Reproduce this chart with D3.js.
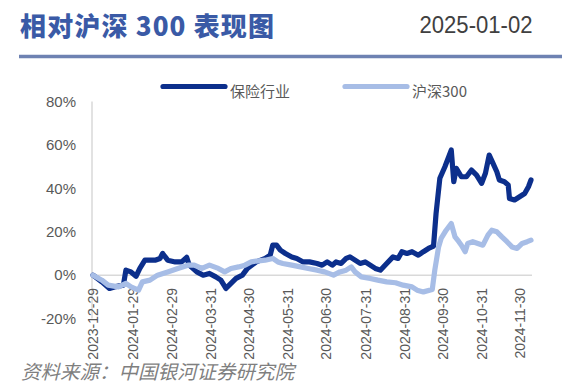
<!DOCTYPE html>
<html><head><meta charset="utf-8">
<script src="https://cdn.jsdelivr.net/npm/d3@7/dist/d3.min.js"></script>
<style>
html,body{margin:0;padding:0;background:#fff;}
svg{display:block;}
</style></head>
<body>
<svg id="chart" width="571" height="392"></svg>
<script>
const titleText = "相对沪深 300 表现图";
const dateText = "2025-01-02";
const sourceText = "资料来源：中国银河证券研究院";
const seriesNames = ["保险行业", "沪深300"];

const xTickLabels = ["2023-12-29","2024-01-29","2024-02-29","2024-03-31","2024-04-30","2024-05-31","2024-06-30","2024-07-31","2024-08-31","2024-09-30","2024-10-31","2024-11-30"];
const yTickValues = [-20, 0, 20, 40, 60, 80];
const xDomain = ["2023-12-29", "2024-12-09"];

const insuranceDates = ["2023-12-29","2024-01-05","2024-01-11","2024-01-15","2024-01-22","2024-01-24","2024-01-28","2024-02-01","2024-02-04","2024-02-08","2024-02-16","2024-02-20","2024-02-22","2024-02-26","2024-03-03","2024-03-08","2024-03-12","2024-03-14","2024-03-20","2024-03-25","2024-03-30","2024-04-04","2024-04-08","2024-04-12","2024-04-16","2024-04-20","2024-04-25","2024-04-29","2024-05-06","2024-05-13","2024-05-17","2024-05-19","2024-05-22","2024-05-25","2024-05-29","2024-06-03","2024-06-07","2024-06-12","2024-06-17","2024-06-23","2024-06-27","2024-07-01","2024-07-05","2024-07-08","2024-07-12","2024-07-16","2024-07-19","2024-07-23","2024-07-27","2024-07-31","2024-08-04","2024-08-08","2024-08-12","2024-08-17","2024-08-22","2024-08-26","2024-08-29","2024-09-02","2024-09-06","2024-09-11","2024-09-15","2024-09-19","2024-09-23","2024-09-25","2024-09-28","2024-10-02","2024-10-07","2024-10-09","2024-10-11","2024-10-15","2024-10-19","2024-10-23","2024-10-27","2024-10-31","2024-11-03","2024-11-06","2024-11-09","2024-11-12","2024-11-14","2024-11-18","2024-11-21","2024-11-22","2024-11-26","2024-11-30","2024-12-04","2024-12-07","2024-12-09"];
const insuranceValues = [0,-3.1,-6.1,-5.4,-4.6,2.3,1.5,-0.5,3.1,6.9,6.9,7.7,10.0,6.9,6.1,6.1,8.2,4.6,1.5,0.0,0.8,-0.8,-2.3,-6.1,-3.8,-1.5,0.0,3.1,6.1,7.7,9.2,13.8,13.8,11.5,10.0,8.4,7.7,6.1,6.1,5.4,4.6,6.1,4.6,6.1,5.4,7.7,8.4,6.9,5.4,6.1,4.6,3.1,2.3,5.4,8.4,7.7,10.8,10.0,10.8,9.2,10.8,12.3,13.4,28.4,44.6,49.9,57.6,43.0,49.2,45.3,45.3,48.4,46.1,42.3,46.9,55.3,51.5,47.6,43.8,43.0,41.5,35.3,34.6,36.1,37.6,40.7,43.8];

const hs300Dates = ["2023-12-29","2024-01-05","2024-01-10","2024-01-18","2024-01-24","2024-01-28","2024-02-03","2024-02-06","2024-02-12","2024-02-18","2024-02-26","2024-03-05","2024-03-13","2024-03-18","2024-03-24","2024-03-30","2024-04-06","2024-04-11","2024-04-16","2024-04-22","2024-04-27","2024-05-02","2024-05-06","2024-05-13","2024-05-19","2024-05-23","2024-05-27","2024-06-03","2024-06-10","2024-06-16","2024-06-23","2024-06-29","2024-07-06","2024-07-11","2024-07-16","2024-07-20","2024-07-23","2024-07-28","2024-08-04","2024-08-10","2024-08-17","2024-08-24","2024-08-30","2024-09-06","2024-09-10","2024-09-15","2024-09-22","2024-09-24","2024-09-27","2024-09-29","2024-10-03","2024-10-07","2024-10-10","2024-10-13","2024-10-15","2024-10-18","2024-10-20","2024-10-24","2024-10-28","2024-11-01","2024-11-05","2024-11-08","2024-11-12","2024-11-16","2024-11-20","2024-11-24","2024-11-28","2024-12-02","2024-12-06","2024-12-09"];
const hs300Values = [0,-2.3,-4.6,-5.4,-3.8,-5.4,-6.9,-3.1,-2.3,0.0,1.5,3.1,4.6,4.6,3.1,4.6,3.1,1.5,3.1,3.8,4.6,6.1,6.5,6.9,7.7,6.1,5.4,4.6,3.8,3.1,2.3,1.5,0.0,1.5,2.3,3.8,1.5,-0.8,-1.5,-2.3,-3.1,-3.5,-4.6,-5.4,-6.9,-7.7,-6.6,2.3,13.0,16.9,20.7,23.8,17.6,15.4,13.8,10.8,14.6,15.4,14.6,13.8,18.4,20.7,20.0,17.6,15.4,13.0,12.3,14.6,15.4,16.1];

const colors = ["#0c2f8c", "#a7bde6"];

const svg = d3.select("#chart");
const parse = d3.utcParse("%Y-%m-%d");

const x = d3.scaleUtc().domain(xDomain.map(parse)).range([93, 531]);
const y = d3.scaleLinear().domain([-20, 80]).range([318.6, 101.4]);

// Header
svg.append("text").attr("x", 20).attr("y", 36)
  .attr("font-family", "'Noto Sans CJK SC', sans-serif").attr("font-weight", 900)
  .attr("font-size", 26).attr("fill", "#3a5aa6")
  .attr("textLength", 254).attr("lengthAdjust", "spacing")
  .text(titleText);
svg.append("text").attr("x", 532.5).attr("y", 32.5).attr("text-anchor", "end")
  .attr("font-family", "'Liberation Sans', sans-serif").attr("font-size", 23)
  .attr("fill", "#404040").attr("textLength", 113).attr("lengthAdjust", "spacingAndGlyphs")
  .text(dateText);
svg.append("line").attr("x1", 19).attr("x2", 562).attr("y1", 56.5).attr("y2", 56.5)
  .attr("stroke", "#6e82b2").attr("stroke-width", 3.5);

// Axis lines
svg.append("line").attr("x1", 92).attr("x2", 92).attr("y1", y(80)).attr("y2", y(-20))
  .attr("stroke", "#d9d9d9").attr("stroke-width", 1.5);
svg.append("line").attr("x1", 92).attr("x2", 532).attr("y1", y(0)).attr("y2", y(0))
  .attr("stroke", "#d9d9d9").attr("stroke-width", 1.5);

// Y axis labels
const yAxis = d3.axisLeft(y).tickValues(yTickValues).tickSize(0).tickPadding(0)
  .tickFormat(d => d + "%");
const gy = svg.append("g").attr("transform", "translate(76,0)").call(yAxis);
gy.select(".domain").remove();
gy.selectAll("text").attr("font-family", "'Liberation Sans', sans-serif")
  .attr("font-size", 15).attr("fill", "#595959");

// X axis labels
const xAxis = d3.axisBottom(x).tickValues(xTickLabels.map(parse)).tickSize(0)
  .tickFormat(d3.utcFormat("%Y-%m-%d"));
const gx = svg.append("g").attr("transform", "translate(0,288)").call(xAxis);
gx.select(".domain").remove();
gx.selectAll("text").attr("font-family", "'Liberation Sans', sans-serif")
  .attr("font-size", 14).attr("fill", "#595959")
  .attr("transform", "rotate(-90)").attr("text-anchor", "end")
  .attr("x", 0).attr("y", 0).attr("dy", "0.35em");

// Lines
const line = d3.line().x(d => x(d[0])).y(d => y(d[1])).curve(d3.curveLinear);
const ins = insuranceDates.map((d, i) => [parse(d), insuranceValues[i]]);
const hs = hs300Dates.map((d, i) => [parse(d), hs300Values[i]]);

svg.append("path").datum(ins).attr("d", line).attr("fill", "none")
  .attr("stroke", colors[0]).attr("stroke-width", 5.2)
  .attr("stroke-linejoin", "round").attr("stroke-linecap", "round");
svg.append("path").datum(hs).attr("d", line).attr("fill", "none")
  .attr("stroke", colors[1]).attr("stroke-width", 5.2)
  .attr("stroke-linejoin", "round").attr("stroke-linecap", "round");

// Legend
const legendX = [163, 345];
seriesNames.forEach((name, i) => {
  svg.append("line").attr("x1", legendX[i]).attr("x2", legendX[i] + 62)
    .attr("y1", 86.5).attr("y2", 86.5).attr("stroke", colors[i])
    .attr("stroke-width", 5.2).attr("stroke-linecap", "round");
  svg.append("text").attr("x", legendX[i] + 67).attr("y", 90.5)
    .attr("dominant-baseline", "central")
    .attr("font-family", "'Noto Sans CJK SC', sans-serif").attr("font-size", 15)
    .attr("fill", "#595959").text(name);
});

// Source
svg.append("text").attr("x", 21).attr("y", 379)
  .attr("font-family", "'Noto Sans CJK SC', sans-serif").attr("font-size", 19.5)
  .attr("font-style", "italic").attr("fill", "#7f7f7f").text(sourceText);
</script>
</body></html>
